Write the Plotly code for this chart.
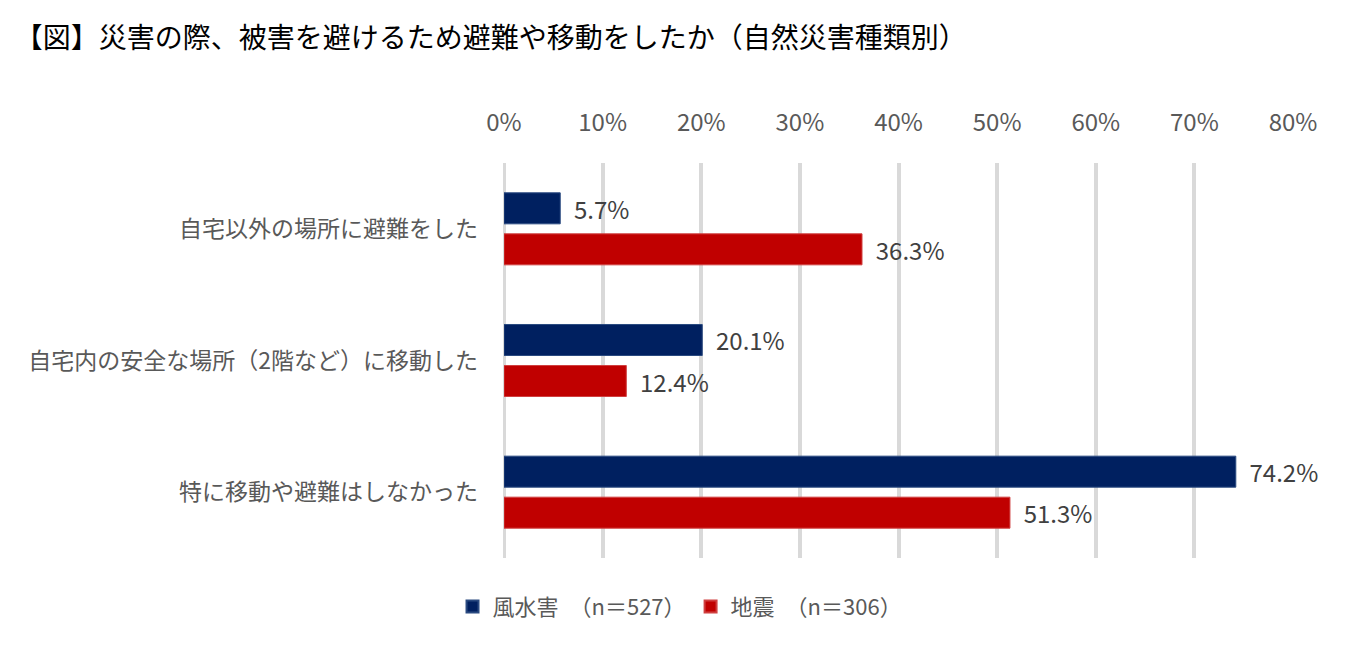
import plotly.graph_objects as go

categories = ["自宅以外の場所に避難をした", "自宅内の安全な場所（2階など）に移動した", "特に移動や避難はしなかった"]
wind_flood = [5.7, 20.1, 74.2]
earthquake = [36.3, 12.4, 51.3]
series_names = ["風水害　（n＝527）", "地震　（n＝306）"]
tick_vals = [0, 10, 20, 30, 40, 50, 60, 70, 80]
tick_text = [f"{v}%" for v in tick_vals]

FONT = "Noto Sans CJK JP"

fig = go.Figure()
fig.add_trace(go.Bar(
    y=categories, x=wind_flood, orientation="h", name=series_names[0],
    marker=dict(color="#002060", line=dict(color="#2a4a80", width=1)),
    text=wind_flood, texttemplate="\u00a0\u00a0%{x:.1f}%", textposition="outside",
    constraintext="none",
    textfont=dict(size=24, color="#404040", family=FONT), cliponaxis=False,
))
fig.add_trace(go.Bar(
    y=categories, x=earthquake, orientation="h", name=series_names[1],
    marker=dict(color="#C00000", line=dict(color="#d04040", width=1)),
    text=earthquake, texttemplate="\u00a0\u00a0%{x:.1f}%", textposition="outside",
    constraintext="none",
    textfont=dict(size=24, color="#404040", family=FONT), cliponaxis=False,
))

fig.update_layout(
    width=1367, height=648,
    margin=dict(l=496, r=82, t=155, b=98, autoexpand=False),
    paper_bgcolor="white", plot_bgcolor="white",
    barmode="group", bargap=0.377, bargroupgap=0.244,
    font=dict(family=FONT, color="#595959", size=20),
    title=dict(text="【図】災害の際、被害を避けるため避難や移動をしたか（自然災害種類別）",
               x=0.005, xanchor="left", xref="container", y=0.954, yanchor="middle", yref="container",
               font=dict(size=28, color="#000000", family=FONT)),
    legend=dict(orientation="h", x=0.4916, xanchor="center", xref="container",
                y=0.076, yanchor="middle", yref="container",
                font=dict(size=22, color="#595959", family=FONT), traceorder="normal",
                itemsizing="constant"),
    xaxis=dict(side="top", range=[0, 80], tickvals=tick_vals, ticktext=tick_text,
               showgrid=True, gridcolor="#d9d9d9", gridwidth=4,
               zeroline=True, zerolinecolor="#d9d9d9", zerolinewidth=3,
               showline=False, ticks="", ticklabelstandoff=26, automargin=False,
               tickfont=dict(size=24, color="#595959")),
    yaxis=dict(autorange="reversed", showgrid=False, ticks="", showline=False,
               ticklabelstandoff=25, automargin=False,
               tickfont=dict(size=23, color="#595959")),
)

fig.write_html("out.html")
